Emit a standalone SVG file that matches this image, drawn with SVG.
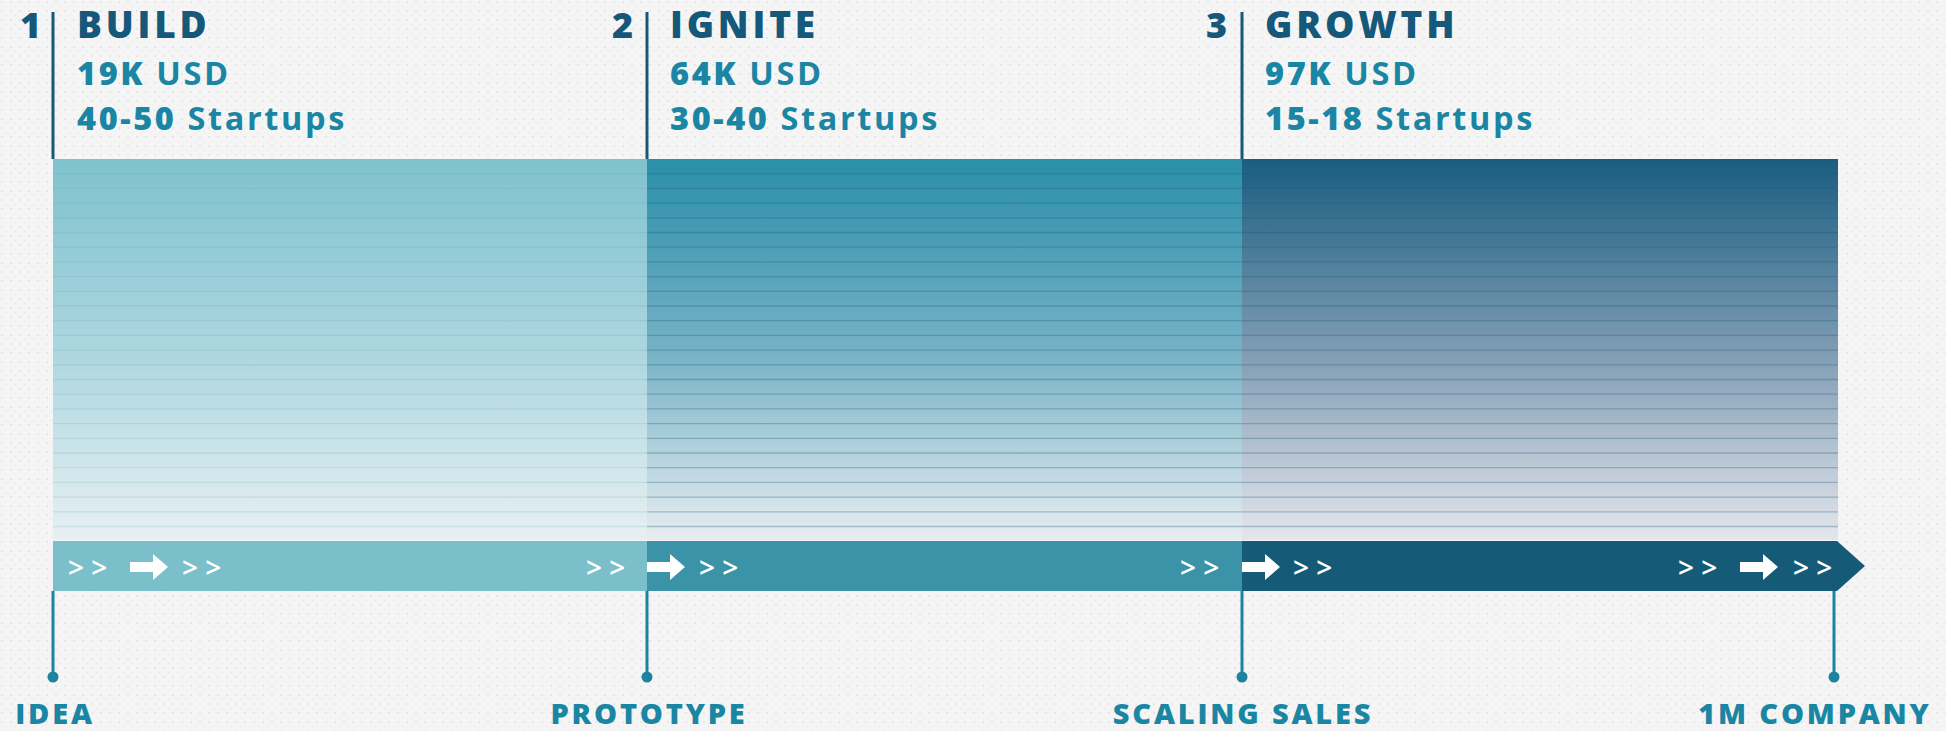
<svg xmlns="http://www.w3.org/2000/svg" width="1946" height="731" viewBox="0 0 1946 731">
<style>
.num{font-family:"Open Sans","DejaVu Sans",sans-serif;font-weight:800;font-size:36px;fill:#16587a}
.title{font-family:"Open Sans","DejaVu Sans",sans-serif;font-weight:800;font-size:37px;fill:#16587a;letter-spacing:3.8px}
.sub{font-family:"Open Sans","DejaVu Sans",sans-serif;font-weight:800;font-size:32.5px;fill:#1b86a4;letter-spacing:2.6px}
.light{font-weight:700}
.lbl{font-family:"Open Sans","DejaVu Sans",sans-serif;font-weight:800;font-size:29px;fill:#1b86a4;letter-spacing:2.8px;text-anchor:middle}
.chev{font-family:"Open Sans","DejaVu Sans",sans-serif;font-weight:600;font-size:28px;fill:#ffffff}
.vline{stroke:#16587a;stroke-width:3}
.stem{stroke:#1d84a0;stroke-width:3}
.dot{fill:#1d84a0}
.grid1{stroke:#5a9fb0;stroke-opacity:0.18;stroke-width:1.3;fill:none}
.grid2{stroke:#1e5b76;stroke-opacity:0.3;stroke-width:1.3;fill:none}
</style>
<defs>
<pattern id="dots" width="9" height="9" patternUnits="userSpaceOnUse">
<rect width="9" height="9" fill="#f5f5f5"/>
<circle cx="2" cy="2" r="1" fill="#e3e3e3"/>
<circle cx="6.5" cy="6.5" r="0.8" fill="#ebebeb"/>
</pattern>
<linearGradient id="g1" x1="0" y1="0" x2="0" y2="1">
<stop offset="0" stop-color="#7fc2ce"/>
<stop offset="0.5" stop-color="#acd6df"/>
<stop offset="1" stop-color="#e7f0f2"/>
</linearGradient>
<linearGradient id="g2" x1="0" y1="0" x2="0" y2="1">
<stop offset="0" stop-color="#2a8fa9"/>
<stop offset="0.5" stop-color="#75b1c5"/>
<stop offset="1" stop-color="#e7edf1"/>
</linearGradient>
<linearGradient id="g3" x1="0" y1="0" x2="0" y2="1">
<stop offset="0" stop-color="#1a5d80"/>
<stop offset="0.5" stop-color="#7e9bb3"/>
<stop offset="1" stop-color="#e4e6ed"/>
</linearGradient>
<path id="arr" d="M0,-5 H23 V-13 L38,0 L23,13 V5 H0 Z" fill="#ffffff"/>
</defs>
<rect width="1946" height="731" fill="url(#dots)"/>

<g id="chart">
<rect x="53" y="159" width="594" height="381" fill="url(#g1)"/>
<rect x="647" y="159" width="595" height="381" fill="url(#g2)"/>
<rect x="1242" y="159" width="596" height="381" fill="url(#g3)"/>
<path class="grid1" d="M53,173.7H647M53,188.4H647M53,203.1H647M53,217.8H647M53,232.5H647M53,247.2H647M53,261.9H647M53,276.6H647M53,291.3H647M53,306H647M53,320.7H647M53,335.4H647M53,350.1H647M53,364.8H647M53,379.5H647M53,394.2H647M53,408.9H647M53,423.6H647M53,438.3H647M53,453H647M53,467.7H647M53,482.4H647M53,497.1H647M53,511.8H647M53,526.5H647"/>
<path class="grid2" d="M647,173.7H1838M647,188.4H1838M647,203.1H1838M647,217.8H1838M647,232.5H1838M647,247.2H1838M647,261.9H1838M647,276.6H1838M647,291.3H1838M647,306H1838M647,320.7H1838M647,335.4H1838M647,350.1H1838M647,364.8H1838M647,379.5H1838M647,394.2H1838M647,408.9H1838M647,423.6H1838M647,438.3H1838M647,453H1838M647,467.7H1838M647,482.4H1838M647,497.1H1838M647,511.8H1838M647,526.5H1838"/>
</g>

<g id="stage1">
<line class="vline" x1="53" y1="12" x2="53" y2="159"/>
<text class="num" x="20" y="38">1</text>
<text class="title" x="77" y="38">BUILD</text>
<text class="sub" x="77" y="85">19K <tspan class="light">USD</tspan></text>
<text class="sub" x="77" y="130">40-50 <tspan class="light">Startups</tspan></text>
</g>
<g id="stage2">
<line class="vline" x1="647" y1="12" x2="647" y2="159"/>
<text class="num" x="612" y="38">2</text>
<text class="title" x="670" y="38">IGNITE</text>
<text class="sub" x="670" y="85">64K <tspan class="light">USD</tspan></text>
<text class="sub" x="670" y="130">30-40 <tspan class="light">Startups</tspan></text>
</g>
<g id="stage3">
<line class="vline" x1="1242" y1="12" x2="1242" y2="159"/>
<text class="num" x="1206" y="38">3</text>
<text class="title" x="1265" y="38">GROWTH</text>
<text class="sub" x="1265" y="85">97K <tspan class="light">USD</tspan></text>
<text class="sub" x="1265" y="130">15-18 <tspan class="light">Startups</tspan></text>
</g>

<g id="bar">
<rect x="53" y="541" width="594" height="50" fill="#7bbfcb"/>
<rect x="647" y="541" width="595" height="50" fill="#3b93a7"/>
<path d="M1242,541 H1837 L1865,566 L1837,591 H1242 Z" fill="#155b77"/>
<text class="chev" x="68" y="578">&gt; &gt;</text>
<use href="#arr" x="130" y="567"/>
<text class="chev" x="182" y="578">&gt; &gt;</text>
<text class="chev" x="586" y="578">&gt; &gt;</text>
<use href="#arr" x="647" y="567"/>
<text class="chev" x="699" y="578">&gt; &gt;</text>
<text class="chev" x="1180" y="578">&gt; &gt;</text>
<use href="#arr" x="1242" y="567"/>
<text class="chev" x="1293" y="578">&gt; &gt;</text>
<text class="chev" x="1678" y="578">&gt; &gt;</text>
<use href="#arr" x="1740" y="567"/>
<text class="chev" x="1793" y="578">&gt; &gt;</text>
</g>

<g id="connectors">
<line class="stem" x1="53" y1="591" x2="53" y2="677"/>
<line class="stem" x1="647" y1="591" x2="647" y2="677"/>
<line class="stem" x1="1242" y1="591" x2="1242" y2="677"/>
<line class="stem" x1="1834" y1="591" x2="1834" y2="677"/>
</g>

<g id="m-idea"><circle class="dot" cx="53" cy="677" r="5.5"/><text class="lbl" x="55" y="724">IDEA</text></g>
<g id="m-prototype"><circle class="dot" cx="647" cy="677" r="5.5"/><text class="lbl" x="649" y="724">PROTOTYPE</text></g>
<g id="m-scaling"><circle class="dot" cx="1242" cy="677" r="5.5"/><text class="lbl" x="1243" y="724">SCALING SALES</text></g>
<g id="m-company"><circle class="dot" cx="1834" cy="677" r="5.5"/><text class="lbl" x="1815" y="724">1M COMPANY</text></g>
</svg>
